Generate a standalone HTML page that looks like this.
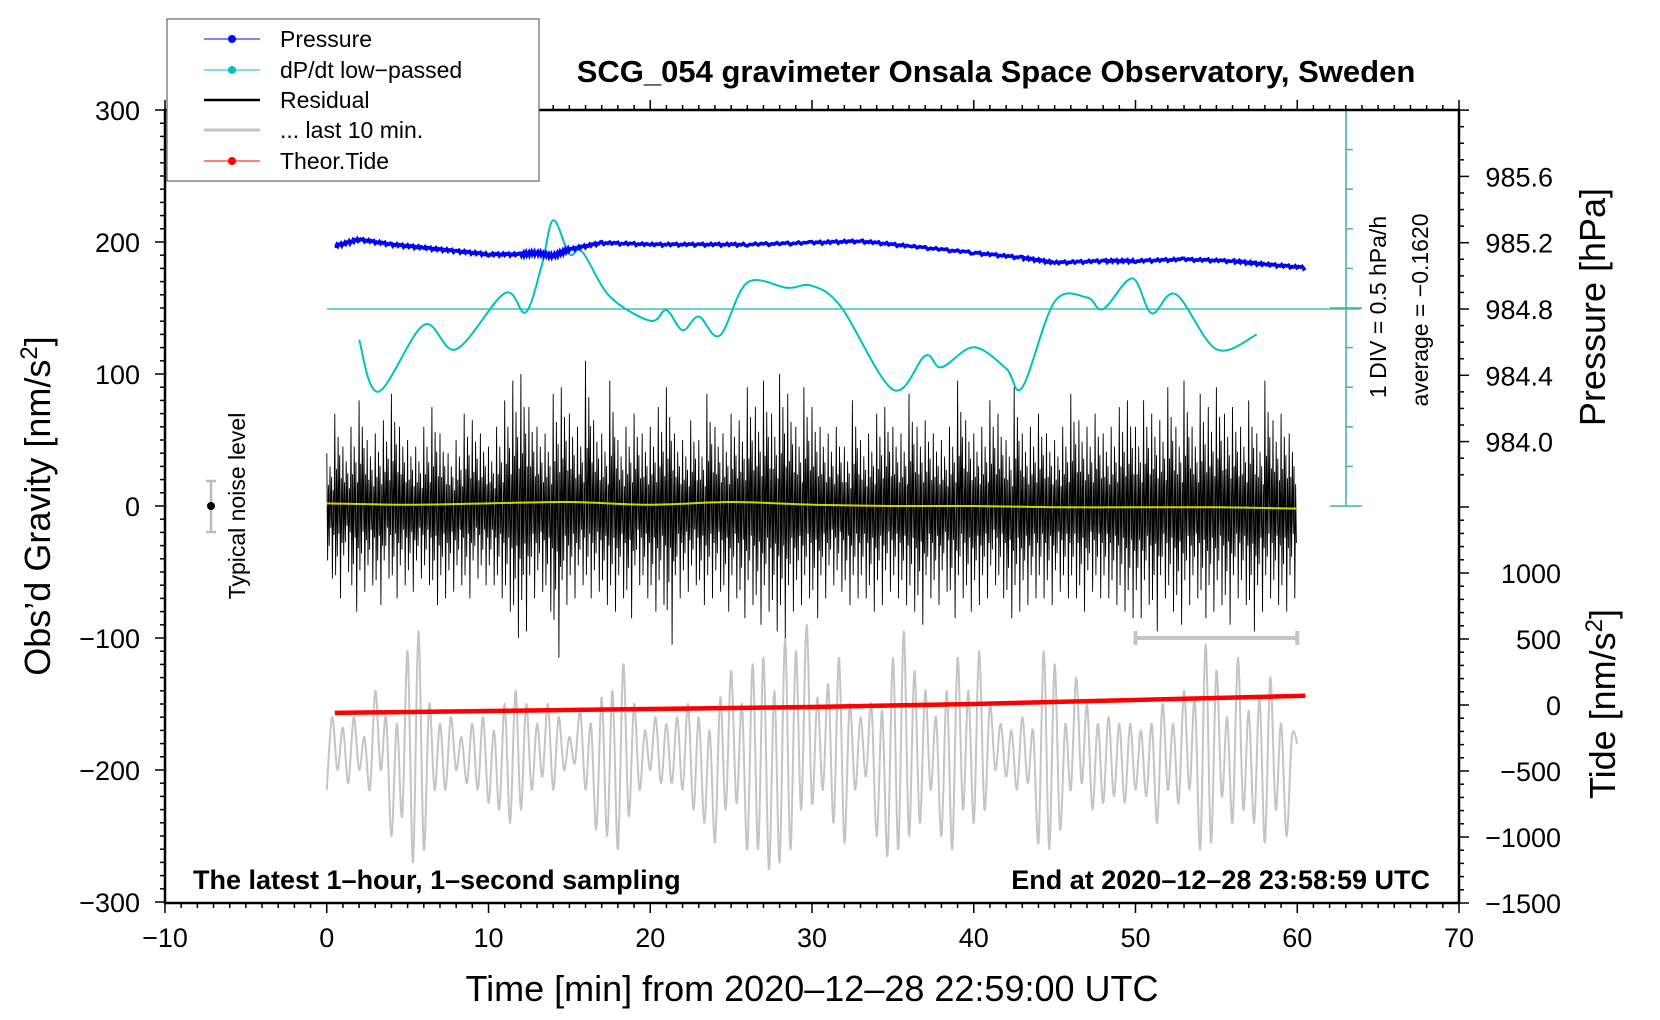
<!DOCTYPE html>
<html><head><meta charset="utf-8"><style>
html,body{margin:0;padding:0;background:#fff;}
svg{display:block;font-family:"Liberation Sans",sans-serif;}
</style></head><body>
<svg id="chart" width="1660" height="1020" viewBox="0 0 1660 1020" xmlns="http://www.w3.org/2000/svg">
<g id="plot"></g>
<g id="axes"></g>
</svg>
<script>
// ---- data ----
const xTicks=[-10,0,10,20,30,40,50,60,70];
const gravTicks=[-300,-200,-100,0,100,200,300];
const presTicks=[984.0,984.4,984.8,985.2,985.6];
const tideTicks=[-1500,-1000,-500,0,500,1000];
const presTime=[0.5,2,4,6,8,10,12,13,14,15,17,20,23,26,30,33,36,40,43,45,48,50,53,56,58,60.5];
const presVal=[985.18,985.22,985.19,985.17,985.15,985.13,985.13,985.14,985.12,985.16,985.2,985.19,985.19,985.19,985.2,985.21,985.18,985.14,985.11,985.08,985.09,985.09,985.1,985.09,985.07,985.05];
const dpTime=[2,3.2,6,8,11,12.3,13.3,14,15,15.8,17.5,20,21,22,23,24.3,26,28.5,30,31.8,35,37,38,40,42,43,45,47,48,49.8,51,52.5,55,57.5];
const dpVal=[-0.551,-1.206,-0.364,-0.671,0.038,-0.204,0.397,0.959,0.532,0.558,-0.003,-0.311,-0.177,-0.431,-0.257,-0.498,0.171,0.104,0.131,-0.137,-1.18,-0.752,-0.898,-0.644,-0.912,-1.152,-0.07,-0.017,-0.163,0.224,-0.216,0.024,-0.671,-0.484];
const dpAverage=-0.162;
const resHigh=[40,70,45,60,80,50,55,65,85,60,50,45,60,75,55,40,50,70,65,55,
45,60,80,95,100,75,60,55,85,90,70,60,110,65,55,95,50,60,70,55,
60,75,90,55,50,65,50,85,60,55,70,65,90,75,95,70,100,85,60,90,
75,60,55,60,45,80,50,55,70,75,60,55,85,60,65,55,50,60,95,65,
55,60,80,70,50,90,55,60,70,55,50,60,85,65,60,70,55,60,75,80,
60,80,70,65,90,60,95,60,85,75,90,70,75,60,80,55,95,65,70,55];
const resLow=[-55,-70,-50,-80,-65,-60,-75,-55,-70,-60,-65,-55,-60,-75,-70,-65,-60,-70,-55,-60,
-60,-70,-80,-100,-95,-70,-65,-80,-115,-75,-70,-60,-70,-65,-75,-80,-70,-85,-60,-70,
-80,-75,-105,-70,-65,-60,-75,-70,-65,-80,-70,-85,-75,-90,-80,-95,-100,-80,-75,-70,
-85,-70,-60,-65,-75,-70,-70,-80,-75,-65,-70,-75,-80,-90,-70,-75,-65,-85,-70,-80,
-75,-70,-60,-70,-85,-80,-75,-70,-70,-75,-65,-70,-70,-80,-65,-70,-70,-75,-80,-85,
-85,-75,-95,-70,-80,-90,-75,-70,-85,-80,-75,-90,-70,-75,-95,-80,-70,-75,-80,-70];
const smoothVal=[2,1,2,3,1,3,1,0,0,-1,-1,-1,-2];
const grayPeaks=[-160,-168,-160,-175,-140,-160,-165,-110,-95,-150,-165,-160,-175,-165,-160,-170,-150,-140,-150,-165,
-150,-160,-175,-155,-165,-145,-140,-120,-150,-170,-160,-165,-160,-150,-160,-170,-145,-125,-150,-120,
-115,-140,-100,-110,-90,-145,-135,-115,-150,-160,-150,-155,-115,-95,-125,-140,-160,-140,-115,-140,
-110,-150,-165,-170,-160,-170,-110,-120,-165,-130,-150,-165,-160,-165,-165,-170,-165,-150,-165,-140,
-145,-105,-125,-160,-115,-155,-145,-130,-165,-175];
const grayTroughs=[-215,-200,-210,-200,-215,-200,-250,-235,-270,-260,-215,-215,-200,-210,-215,-225,-230,-240,-230,-215,
-205,-215,-200,-195,-215,-245,-250,-260,-235,-215,-200,-210,-210,-215,-230,-240,-255,-230,-225,-260,
-260,-275,-270,-260,-230,-225,-215,-240,-255,-215,-205,-250,-265,-260,-250,-240,-215,-250,-260,-230,
-240,-230,-200,-205,-215,-210,-255,-260,-245,-215,-210,-230,-225,-220,-225,-215,-220,-240,-215,-225,
-215,-260,-255,-220,-240,-230,-240,-255,-230,-250,-180];
const tideTime=[0.5,10,20,30,40,50,60.5];
const tideVal=[-60,-45,-30,-15,8,38,70];

// ---- scales ----
const X0=165,X1=1459,Y0=110,Y1=903;
const xs=t=>X0+(t+10)*(X1-X0)/80;
const gy=g=>506-g*1.32;
const py=p=>309-(p-984.8)*165.75;
const ty=v=>903-(v+1500)*66/500;
const dy=v=>309-(v-dpAverage)/0.5*39.6;
const NS="http://www.w3.org/2000/svg";
const plot=document.getElementById('plot'),axes=document.getElementById('axes');
function mk(tag,attrs,parent,text){const e=document.createElementNS(NS,tag);for(const k in attrs)e.setAttribute(k,attrs[k]);if(text!==undefined)e.textContent=text;parent.appendChild(e);return e;}
function smoothPath(pts){let d='M'+pts[0][0]+','+pts[0][1];for(let i=0;i<pts.length-1;i++){const p0=pts[i-1]||pts[i],p1=pts[i],p2=pts[i+1],p3=pts[i+2]||p2;
d+=' C'+(p1[0]+(p2[0]-p0[0])/6).toFixed(1)+','+(p1[1]+(p2[1]-p0[1])/6).toFixed(1)+' '+(p2[0]-(p3[0]-p1[0])/6).toFixed(1)+','+(p2[1]-(p3[1]-p1[1])/6).toFixed(1)+' '+p2[0].toFixed(1)+','+p2[1].toFixed(1);}return d;}

// gray last-10-min (oscillation)
const gpts=[];const per=60/grayPeaks.length;
for(let i=0;i<grayTroughs.length;i++){gpts.push([xs(i*per),gy(grayTroughs[i])]);if(i<grayPeaks.length)gpts.push([xs(i*per+per/2),gy(grayPeaks[i])]);}
let e=mk('path',{d:smoothPath(gpts),fill:'none',stroke:'#c4c4c4','stroke-width':2},plot);



// residual
const pat=[1,0.4,0.75,0.55,0.3];
let rd='';const bw=60/resHigh.length;
for(let i=0;i<resHigh.length;i++){for(let k=0;k<pat.length;k++){const t=i*bw+k*bw/pat.length;const x=xs(t).toFixed(1);
rd+=(i===0&&k===0?'M':'L')+x+','+gy(resHigh[i]*pat[k]).toFixed(1)+' L'+(xs(t+bw/pat.length/2)).toFixed(1)+','+gy(resLow[i]*pat[(k+2)%pat.length]).toFixed(1)+' ';}}
e=mk('path',{d:rd,fill:'none',stroke:'#000','stroke-width':0.9},plot);



// smoothed residual (yellow)
e=mk('path',{d:smoothPath(smoothVal.map((v,i)=>[xs(i*5),gy(v)])),fill:'none',stroke:'#d4d400','stroke-width':2},plot);



// tide
e=mk('path',{d:'M'+tideTime.map((t,i)=>xs(t)+','+ty(tideVal[i])).join(' L'),fill:'none',stroke:'#ff0000','stroke-width':4.5},plot);



// dpdt average line
e=mk('line',{x1:xs(0),x2:1361,y1:dy(dpAverage),y2:dy(dpAverage),stroke:'#40c0c0','stroke-width':1.5},plot);


// dpdt
e=mk('path',{d:smoothPath(dpTime.map((t,i)=>[xs(t),dy(dpVal[i])])),fill:'none',stroke:'#00c0c0','stroke-width':2},plot);


// pressure
let pp=[];const jit=[0,1,-1,0.5,-0.5,1.5,-1,0];for(let i=0;i<presTime.length-1;i++){const n=24;for(let k=0;k<n;k++){const f=k/n;const t=presTime[i]+f*(presTime[i+1]-presTime[i]);const v=presVal[i]+f*(presVal[i+1]-presVal[i]);pp.push([xs(t),py(v)+jit[(k*3+i)%8]]);}}
pp.push([xs(presTime[presTime.length-1]),py(presVal[presVal.length-1])]);
e=mk('path',{d:'M'+pp.map(p=>p[0].toFixed(1)+','+p[1].toFixed(1)).join(' L'),fill:'none',stroke:'#0000ff','stroke-width':3.5},plot);



// dpdt scale axis
e=mk('line',{x1:1346,x2:1346,y1:Y0,y2:507,stroke:'#40b0b0','stroke-width':1.5},axes);


for(let i=0;i<=10;i++){const y=Y0+i*39.6;const big=(i===0||i===5||i===10);mk('line',{x1:big?1330:1346,x2:big?1362:1353,y1:y,y2:y,stroke:'#40b0b0','stroke-width':1.5},axes);}

// frame
e=mk('rect',{x:X0,y:Y0,width:X1-X0,height:Y1-Y0,fill:'none',stroke:'#000','stroke-width':2.5},axes);


// x ticks
for(let t=-10;t<=70;t++){const x=xs(t);const L=(t%10===0)?10:5;mk('line',{x1:x,x2:x,y1:Y1,y2:Y1+L,stroke:'#000','stroke-width':1.5},axes);mk('line',{x1:x,x2:x,y1:Y0,y2:Y0-L,stroke:'#000','stroke-width':1.5},axes);}
xTicks.forEach(t=>{const el=mk('text',{x:xs(t),y:947,'font-size':27,'text-anchor':'middle'},axes,t<0?'\u2212'+(-t):String(t));

});
// left ticks
for(let g=-300;g<=300;g+=10){const y=gy(g);mk('line',{x1:X0-((g%100===0)?10:5),x2:X0,y1:y,y2:y,stroke:'#000','stroke-width':1.5},axes);}
gravTicks.forEach(g=>{const el=mk('text',{x:X0-25,y:gy(g)+10,'font-size':27,'text-anchor':'end'},axes,g<0?'\u2212'+(-g):String(g));

});
// pressure ticks (upper right)
for(let p=983.8;p<=986.01;p+=0.1){const y=py(p);if(y<Y0||y>506)continue;const maj=Math.abs(Math.round(p*10)%4)===0;mk('line',{x1:X1,x2:X1+(maj?10:5),y1:y,y2:y,stroke:'#000','stroke-width':1.5},axes);}
presTicks.forEach(p=>{const el=mk('text',{x:1553,y:py(p)+10,'font-size':27,'text-anchor':'end'},axes,p.toFixed(1));

});
// tide ticks
for(let v=-1500;v<=1500;v+=100){const y=ty(v);if(y<506)continue;mk('line',{x1:X1,x2:X1+(v%500===0?10:5),y1:y,y2:y,stroke:'#000','stroke-width':1.5},axes);}
tideTicks.forEach(v=>{const el=mk('text',{x:1561,y:ty(v)+10,'font-size':27,'text-anchor':'end'},axes,v<0?'\u2212'+(-v):String(v));

});

// 10-min bar
e=mk('path',{d:`M${xs(50)},631 V645 M${xs(50)},638 H${xs(60)} M${xs(60)},631 V645`,stroke:'#c4c4c4','stroke-width':4,fill:'none'},axes);


// noise bar
e=mk('path',{d:'M206,481 H216 M211,481 V532 M206,532 H216',stroke:'#bbb','stroke-width':2.5,fill:'none'},axes);


mk('circle',{cx:211,cy:506,r:4,fill:'#000'},axes);
</script>
<div style="position:absolute;left:0;top:0;width:1660px;height:1020px;pointer-events:none">
<svg width="1660" height="1020" style="position:absolute;left:0;top:0" xmlns="http://www.w3.org/2000/svg">
<g font-family="Liberation Sans, sans-serif">
<text x="996" y="82" font-size="31" font-weight="bold" text-anchor="middle">SCG_054 gravimeter Onsala Space Observatory, Sweden</text>
<text x="193" y="889" font-size="27" font-weight="bold">The latest 1–hour, 1–second sampling</text>
<text x="1430" y="889" font-size="27" font-weight="bold" text-anchor="end">End at 2020–12–28 23:58:59 UTC</text>
<text x="812" y="1001" font-size="36" text-anchor="middle">Time [min] from 2020–12–28 22:59:00 UTC</text>
<text transform="translate(50,506) rotate(-90)" font-size="36" text-anchor="middle">Obs’d Gravity [nm/s<tspan dy="-13" font-size="24">2</tspan><tspan dy="13">]</tspan></text>
<text transform="translate(1605,307) rotate(-90)" font-size="36" text-anchor="middle">Pressure [hPa]</text>
<text transform="translate(1615,704) rotate(-90)" font-size="36" text-anchor="middle">Tide [nm/s<tspan dy="-13" font-size="24">2</tspan><tspan dy="13">]</tspan></text>
<text transform="translate(245,506) rotate(-90)" font-size="23" text-anchor="middle">Typical noise level</text>
<text transform="translate(1386,307) rotate(-90)" font-size="23" text-anchor="middle">1 DIV = 0.5 hPa/h</text>
<text transform="translate(1428,310) rotate(-90)" font-size="23" text-anchor="middle">average = −0.1620</text>
<g>
<rect x="167" y="19" width="372" height="162" fill="#fff" stroke="#666" stroke-width="1.2"/>
<g><line x1="204" x2="260" y1="39" y2="39" stroke="#0000ff"/><circle cx="232" cy="39" r="4" fill="#0000ff"/><text x="280" y="47" font-size="23">Pressure</text></g>
<g><line x1="204" x2="260" y1="70" y2="70" stroke="#00c0c0"/><circle cx="232" cy="70" r="4" fill="#00c0c0"/><text x="280" y="78" font-size="23">dP/dt low−passed</text></g>
<g><line x1="204" x2="260" y1="100" y2="100" stroke="#000" stroke-width="2.5"/><text x="280" y="108" font-size="23">Residual</text></g>
<g><line x1="204" x2="260" y1="130" y2="130" stroke="#c4c4c4" stroke-width="3"/><text x="280" y="138" font-size="23">... last 10 min.</text></g>
<g><line x1="204" x2="260" y1="161" y2="161" stroke="#ff0000"/><circle cx="232" cy="161" r="4" fill="#ff0000"/><text x="280" y="169" font-size="23">Theor.Tide</text></g>
</g>
</g>
</svg>
</div>
</body></html>
